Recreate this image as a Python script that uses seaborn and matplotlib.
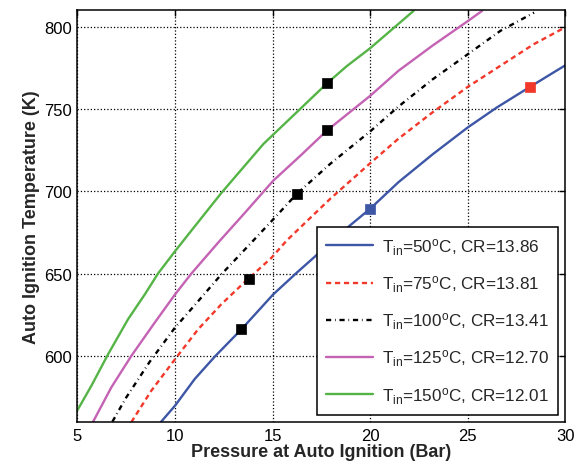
import pandas as pd
import matplotlib
matplotlib.use("Agg")
import matplotlib.pyplot as plt
import seaborn as sns

# pressure (bar) / temperature (K)
p_50 = [9.27, 10.0, 11.01, 12.04, 13.4, 15.03, 16.24, 18.97, 20.0, 21.45, 23.2, 25.01, 26.5, 28.2, 29.4, 30.0]
t_50 = [560, 570, 586.2, 599.8, 616.3, 637.5, 650.7, 679.4, 689.5, 705.6, 722.5, 738.9, 751, 763.5, 772.2, 776.5]

p_75 = [7.76, 8.78, 10.0, 11.18, 12.37, 13.57, 14.94, 15.73, 17.95, 20.0, 21.45, 23.2, 25.01, 26.67, 28.38, 30.0]
t_75 = [560, 579, 598.2, 616.3, 631.5, 645, 659.7, 670.3, 695.5, 717.1, 732, 748, 763.5, 776.2, 789.3, 799.6]

p_100 = [6.79, 7.5, 8.7, 10.0, 11.01, 12.37, 13.9, 14.94, 16.24, 17.95, 20.0, 21.45, 23.2, 25.01, 26.67, 28.4]
t_100 = [560.3, 575, 596.6, 617.4, 631, 649.6, 668.8, 681.9, 698.5, 716.7, 736.4, 751.5, 768, 783.3, 797.4, 808.5]

p_125 = [5.79, 6.73, 7.76, 8.96, 10.0, 10.84, 12.2, 13.57, 15.04, 16.41, 17.78, 20.0, 21.45, 23.2, 25.01, 25.73]
t_125 = [560, 581, 600.2, 620.4, 637.5, 650.2, 668.8, 686.9, 706.6, 721.5, 736.9, 758, 773.2, 788.5, 803.4, 809.5]

p_150 = [5.0, 5.71, 6.56, 7.59, 8.45, 9.13, 10.0, 11.01, 12.37, 14.53, 16.41, 17.78, 18.8, 20.0, 22.22]
t_150 = [567.3, 582, 601, 622.4, 637.5, 650.2, 663.7, 678.8, 699, 728.8, 750, 765.5, 776, 786.9, 809.5]

labels = [
    "T$_{in}$=50$^{o}$C, CR=13.86",
    "T$_{in}$=75$^{o}$C, CR=13.81",
    "T$_{in}$=100$^{o}$C, CR=13.41",
    "T$_{in}$=125$^{o}$C, CR=12.70",
    "T$_{in}$=150$^{o}$C, CR=12.01",
]

# auto ignition points marked with squares
mark_p_black = [13.4, 13.8, 16.24, 17.8, 17.8]
mark_t_black = [616.3, 647, 698.5, 737, 765.5]
mark_p_blue = [20.0]
mark_t_blue = [689.5]
mark_p_red = [28.2]
mark_t_red = [763.5]

colors = ["#3d56a6", "#f2382a", "#000000", "#c462b4", "#55b446"]
styles = ["-", (0, (2.2, 1.6)), (0, (2.2, 1.6, 0.3, 1.6)), "-", "-"]

sns.set_style("white")
plt.rcParams["font.family"] = ["Liberation Sans", "DejaVu Sans"]
plt.rcParams["mathtext.default"] = "regular"

fig = plt.figure(figsize=(5.78, 4.64), dpi=100)
ax = fig.add_axes([0.134, 0.088, 0.844, 0.888])

series = [(p_50, t_50), (p_75, t_75), (p_100, t_100), (p_125, t_125), (p_150, t_150)]
for (p, t), lab, c, ls in zip(series, labels, colors, styles):
    df = pd.DataFrame({"p": p, "t": t})
    sns.lineplot(data=df, x="p", y="t", ax=ax, color=c, linestyle=ls,
                 linewidth=1.7, label=lab, sort=False, estimator=None)

for mp, mt, mc in [(mark_p_black, mark_t_black, "black"),
                   (mark_p_blue, mark_t_blue, "#3d56a6"),
                   (mark_p_red, mark_t_red, "#f2382a")]:
    sns.scatterplot(x=mp, y=mt, ax=ax, marker="s", s=60, color=mc,
                    edgecolor=mc, linewidth=0.5, legend=False, zorder=5)

ax.set_xlim(5, 30)
ax.set_ylim(560, 810)
ax.set_xticks([5, 10, 15, 20, 25, 30])
ax.set_yticks([600, 650, 700, 750, 800])
ax.grid(True, color="black", linestyle=":", linewidth=0.9)
ax.set_axisbelow(True)
ax.tick_params(direction="in", length=4, width=1, top=True, right=True,
               labelsize=12, colors="black", pad=4)
for sp in ax.spines.values():
    sp.set_color("black")
    sp.set_linewidth(1.1)

ax.set_xlabel("Pressure at Auto Ignition (Bar)", fontsize=13, fontweight="bold", labelpad=0)
ax.set_ylabel("Auto Ignition Temperature (K)", fontsize=13, fontweight="bold", labelpad=3)

handles, labs = ax.get_legend_handles_labels()
leg = ax.legend(handles, labs, loc="lower right", bbox_to_anchor=(0.985, 0.017),
                borderaxespad=0, fontsize=12.3, handlelength=2.75, labelspacing=0.97,
                fancybox=False, framealpha=1, edgecolor="black", borderpad=0.55,
                handletextpad=0.5)
leg.get_frame().set_linewidth(1.1)

fig.savefig("out.png", dpi=100)
